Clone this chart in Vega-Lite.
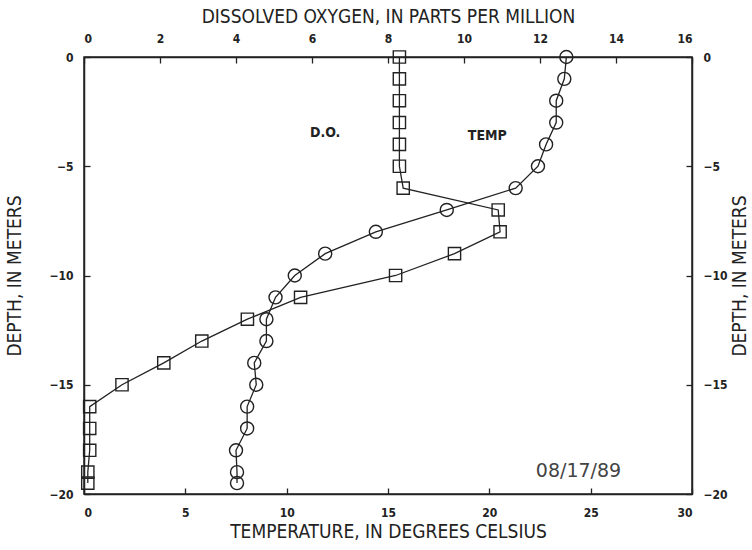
{
  "$schema": "https://vega.github.io/schema/vega-lite/v6.json",
  "width": 608,
  "height": 437,
  "autosize": {"type": "none"},
  "padding": {"left": 84, "top": 57, "right": 60, "bottom": 56},
  "background": "white",
  "config": {
    "view": {"stroke": "#222", "strokeWidth": 1.5},
    "axis": {
      "grid": false,
      "domainColor": "#222",
      "domainWidth": 1.5,
      "tickColor": "#222",
      "tickWidth": 1.3,
      "tickSize": -6,
      "labelFont": "DejaVu Sans Condensed",
      "labelFontWeight": "bold",
      "labelFontSize": 12,
      "labelColor": "#222",
      "titleFont": "DejaVu Sans Condensed",
      "titleFontWeight": "normal",
      "titleFontSize": 19,
      "titleColor": "#222"
    }
  },
  "datasets": {
    "temp": [
      {"depth": 0, "temp": 23.8},
      {"depth": -1, "temp": 23.7},
      {"depth": -2, "temp": 23.3},
      {"depth": -3, "temp": 23.3},
      {"depth": -4, "temp": 22.8},
      {"depth": -5, "temp": 22.4},
      {"depth": -6, "temp": 21.3},
      {"depth": -7, "temp": 17.9},
      {"depth": -8, "temp": 14.4},
      {"depth": -9, "temp": 11.9},
      {"depth": -10, "temp": 10.4},
      {"depth": -11, "temp": 9.45},
      {"depth": -12, "temp": 9.0},
      {"depth": -13, "temp": 9.0},
      {"depth": -14, "temp": 8.4},
      {"depth": -15, "temp": 8.5},
      {"depth": -16, "temp": 8.05},
      {"depth": -17, "temp": 8.05},
      {"depth": -18, "temp": 7.5},
      {"depth": -19, "temp": 7.55},
      {"depth": -19.5, "temp": 7.55}
    ],
    "do": [
      {"depth": 0, "do": 8.3},
      {"depth": -1, "do": 8.3},
      {"depth": -2, "do": 8.3},
      {"depth": -3, "do": 8.3},
      {"depth": -4, "do": 8.3},
      {"depth": -5, "do": 8.3},
      {"depth": -6, "do": 8.4},
      {"depth": -7, "do": 10.9},
      {"depth": -8, "do": 10.95},
      {"depth": -9, "do": 9.75},
      {"depth": -10, "do": 8.2},
      {"depth": -11, "do": 5.7},
      {"depth": -12, "do": 4.3},
      {"depth": -13, "do": 3.1},
      {"depth": -14, "do": 2.1},
      {"depth": -15, "do": 1.0},
      {"depth": -16, "do": 0.15},
      {"depth": -17, "do": 0.15},
      {"depth": -18, "do": 0.15},
      {"depth": -19, "do": 0.1},
      {"depth": -19.5, "do": 0.1}
    ],
    "labels": [
      {"temp": 11.9, "depth": -3.5, "label": "D.O.", "kind": "small"},
      {"temp": 19.9, "depth": -3.6, "label": "TEMP", "kind": "small"},
      {"temp": 24.4, "depth": -18.95, "label": "08/17/89", "kind": "date"}
    ]
  },
  "layer": [
    {
      "data": {"name": "temp"},
      "mark": {
        "type": "line",
        "color": "#222",
        "strokeWidth": 1.3,
        "point": {"shape": "circle", "filled": false, "size": 170, "color": "#222", "strokeWidth": 1.4}
      },
      "encoding": {
        "x": {
          "field": "temp", "type": "quantitative",
          "scale": {"domain": [0, 30], "nice": false, "zero": false},
          "axis": {"orient": "bottom", "values": [0, 5, 10, 15, 20, 25, 30], "labelPadding": 19, "title": "TEMPERATURE, IN DEGREES CELSIUS", "titlePadding": 4}
        },
        "y": {
          "field": "depth", "type": "quantitative",
          "scale": {"domain": [-20, 0], "nice": false, "zero": false},
          "axis": {"orient": "left", "values": [-20, -15, -10, -5, 0], "labelPadding": 17, "title": "DEPTH, IN METERS", "titlePadding": 24}
        },
        "order": {"field": "depth", "sort": "descending"}
      }
    },
    {
      "data": {"name": "do"},
      "mark": {
        "type": "line",
        "color": "#222",
        "strokeWidth": 1.3,
        "point": {"shape": "square", "filled": false, "size": 150, "color": "#222", "strokeWidth": 1.4}
      },
      "encoding": {
        "x": {
          "field": "do", "type": "quantitative",
          "scale": {"domain": [0, 16], "nice": false, "zero": false},
          "axis": {"orient": "top", "values": [0, 2, 4, 6, 8, 10, 12, 14, 16], "labelPadding": 18, "title": "DISSOLVED OXYGEN, IN PARTS PER MILLION", "titlePadding": 6}
        },
        "y": {
          "field": "depth", "type": "quantitative",
          "scale": {"domain": [-20, 0], "nice": false, "zero": false},
          "axis": {"orient": "right", "values": [-20, -15, -10, -5, 0], "labelPadding": 17, "title": "DEPTH, IN METERS", "titleAngle": 270, "titlePadding": 22}
        },
        "order": {"field": "depth", "sort": "descending"}
      }
    },
    {
      "data": {"name": "labels"},
      "transform": [{"filter": "datum.kind == 'small'"}],
      "mark": {"type": "text", "font": "DejaVu Sans Condensed", "fontWeight": "bold", "fontSize": 14, "color": "#222"},
      "encoding": {
        "x": {"field": "temp", "type": "quantitative", "scale": {"domain": [0, 30], "nice": false, "zero": false}, "axis": null},
        "y": {"field": "depth", "type": "quantitative", "scale": {"domain": [-20, 0], "nice": false, "zero": false}, "axis": null},
        "text": {"field": "label"}
      }
    },
    {
      "data": {"name": "labels"},
      "transform": [{"filter": "datum.kind == 'date'"}],
      "mark": {"type": "text", "font": "DejaVu Sans", "fontSize": 19, "color": "#444"},
      "encoding": {
        "x": {"field": "temp", "type": "quantitative", "scale": {"domain": [0, 30], "nice": false, "zero": false}, "axis": null},
        "y": {"field": "depth", "type": "quantitative", "scale": {"domain": [-20, 0], "nice": false, "zero": false}, "axis": null},
        "text": {"field": "label"}
      }
    }
  ],
  "resolve": {"scale": {"x": "independent", "y": "independent"}}
}
